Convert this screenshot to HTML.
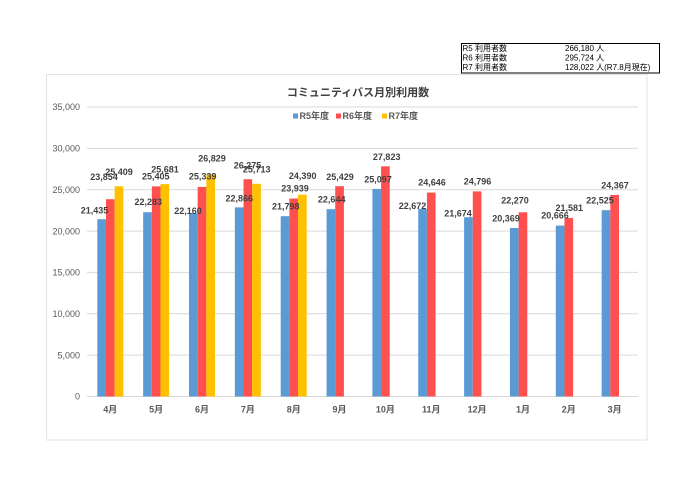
<!DOCTYPE html>
<html><head><meta charset="utf-8"><style>
html,body{margin:0;padding:0;background:#fff;}
svg{display:block;}
text{font-family:"Liberation Sans","Noto Sans CJK JP",sans-serif;}
</style></head><body>
<svg width="700" height="495" viewBox="0 0 700 495" xmlns="http://www.w3.org/2000/svg">
<!-- info box -->
<rect x="461.5" y="43.5" width="198" height="29.5" fill="#fff" stroke="#000" stroke-width="1"/>
<g font-size="8" fill="#000">
<text x="462.5" y="51">R5 利用者数</text><text x="565" y="51">266,180 人</text>
<text x="462.5" y="60.5">R6 利用者数</text><text x="565" y="60.5">295,724 人</text>
<text x="462.5" y="70">R7 利用者数</text><text x="565" y="70">128,022 人(R7.8月現在)</text>
</g>
<!-- chart border -->
<rect x="46.5" y="74.5" width="600.5" height="365.5" fill="#fff" stroke="#e3e3e3" stroke-width="1"/>
<!-- title -->
<text x="358" y="96" font-size="11" font-weight="bold" fill="#404040" text-anchor="middle">コミュニティバス月別利用数</text>
<!-- legend -->
<g font-size="9" font-weight="bold" fill="#595959">
<rect x="293" y="113.5" width="5" height="5" fill="#5B9BD5"/><text x="299.5" y="119">R5年度</text>
<rect x="336" y="113.5" width="5" height="5" fill="#FF5050"/><text x="342.5" y="119">R6年度</text>
<rect x="382" y="113.5" width="5" height="5" fill="#FFC000"/><text x="388.5" y="119">R7年度</text>
</g>
<!-- gridlines -->
<g stroke="#d9d9d9" stroke-width="1">
<line x1="87" x2="638" y1="107" y2="107"/>
<line x1="87" x2="638" y1="148.4" y2="148.4"/>
<line x1="87" x2="638" y1="189.7" y2="189.7"/>
<line x1="87" x2="638" y1="231.1" y2="231.1"/>
<line x1="87" x2="638" y1="272.4" y2="272.4"/>
<line x1="87" x2="638" y1="313.8" y2="313.8"/>
<line x1="87" x2="638" y1="355.1" y2="355.1"/>
<line x1="87" x2="638" y1="396.5" y2="396.5"/>
</g>
<!-- y labels -->
<g font-size="9" fill="#595959" text-anchor="end">
<text x="80" y="110.2">35,000</text>
<text x="80" y="151.6">30,000</text>
<text x="80" y="192.9">25,000</text>
<text x="80" y="234.3">20,000</text>
<text x="80" y="275.6">15,000</text>
<text x="80" y="317">10,000</text>
<text x="80" y="358.3">5,000</text>
<text x="80" y="399.7">0</text>
</g>
<!-- bars R5 -->
<g fill="#5B9BD5">
<rect x="97.3" y="219.2" width="8.67" height="177.3"/>
<rect x="143.15" y="212.2" width="8.67" height="184.3"/>
<rect x="189.0" y="213.2" width="8.67" height="183.3"/>
<rect x="234.85" y="207.4" width="8.67" height="189.1"/>
<rect x="280.7" y="216.2" width="8.67" height="180.3"/>
<rect x="326.55" y="209.2" width="8.67" height="187.3"/>
<rect x="372.4" y="188.9" width="8.67" height="207.6"/>
<rect x="418.25" y="209.0" width="8.67" height="187.5"/>
<rect x="464.1" y="217.2" width="8.67" height="179.3"/>
<rect x="509.95" y="228.0" width="8.67" height="168.5"/>
<rect x="555.8" y="225.6" width="8.67" height="170.9"/>
<rect x="601.65" y="210.2" width="8.67" height="186.3"/>
</g>
<!-- bars R6 -->
<g fill="#FF5050">
<rect x="105.97" y="199.2" width="8.67" height="197.3"/>
<rect x="151.82" y="186.4" width="8.67" height="210.1"/>
<rect x="197.67" y="186.9" width="8.67" height="209.6"/>
<rect x="243.52" y="179.2" width="8.67" height="217.3"/>
<rect x="289.37" y="198.5" width="8.67" height="198.0"/>
<rect x="335.22" y="186.2" width="8.67" height="210.3"/>
<rect x="381.07" y="166.3" width="8.67" height="230.2"/>
<rect x="426.92" y="192.6" width="8.67" height="203.9"/>
<rect x="472.77" y="191.4" width="8.67" height="205.1"/>
<rect x="518.62" y="212.3" width="8.67" height="184.2"/>
<rect x="564.47" y="218.0" width="8.67" height="178.5"/>
<rect x="610.32" y="194.9" width="8.67" height="201.6"/>
</g>
<!-- bars R7 -->
<g fill="#FFC000">
<rect x="114.63" y="186.3" width="8.67" height="210.2"/>
<rect x="160.48" y="184.1" width="8.67" height="212.4"/>
<rect x="206.33" y="174.6" width="8.67" height="221.9"/>
<rect x="252.18" y="183.8" width="8.67" height="212.7"/>
<rect x="298.03" y="194.7" width="8.67" height="201.8"/>
</g>
<!-- x labels -->
<g font-size="9" font-weight="bold" fill="#595959" text-anchor="middle">
<text x="110.3" y="412.5">4月</text>
<text x="156.15" y="412.5">5月</text>
<text x="202.0" y="412.5">6月</text>
<text x="247.85" y="412.5">7月</text>
<text x="293.7" y="412.5">8月</text>
<text x="339.55" y="412.5">9月</text>
<text x="385.4" y="412.5">10月</text>
<text x="431.25" y="412.5">11月</text>
<text x="477.1" y="412.5">12月</text>
<text x="522.95" y="412.5">1月</text>
<text x="568.8" y="412.5">2月</text>
<text x="614.65" y="412.5">3月</text>
</g>
<!-- data labels -->
<g font-size="9" font-weight="bold" fill="#404040" text-anchor="middle">
<text x="94.5" y="213.3">21,435</text>
<text x="104" y="180">23,854</text>
<text x="119" y="175">25,409</text>
<text x="148.3" y="205">22,283</text>
<text x="155.8" y="179.3">25,405</text>
<text x="165" y="172.6">25,681</text>
<text x="188" y="214">22,160</text>
<text x="202.7" y="179.3">25,339</text>
<text x="212" y="161.6">26,829</text>
<text x="239.3" y="201.6">22,866</text>
<text x="247.5" y="168.3">26,275</text>
<text x="256.7" y="172.3">25,713</text>
<text x="285.8" y="209.3">21,798</text>
<text x="295" y="191.6">23,939</text>
<text x="302.7" y="179">24,390</text>
<text x="331.7" y="202.6">22,644</text>
<text x="340" y="180">25,429</text>
<text x="378" y="182.6">25,097</text>
<text x="386.7" y="160">27,823</text>
<text x="412.5" y="209">22,672</text>
<text x="432" y="185.6">24,646</text>
<text x="458" y="216.6">21,674</text>
<text x="477.5" y="184.3">24,796</text>
<text x="506" y="221.6">20,369</text>
<text x="515" y="203.3">22,270</text>
<text x="555" y="218.3">20,666</text>
<text x="569.3" y="211">21,581</text>
<text x="600" y="203.3">22,525</text>
<text x="615" y="188.3">24,367</text>
</g>
</svg>
</body></html>
